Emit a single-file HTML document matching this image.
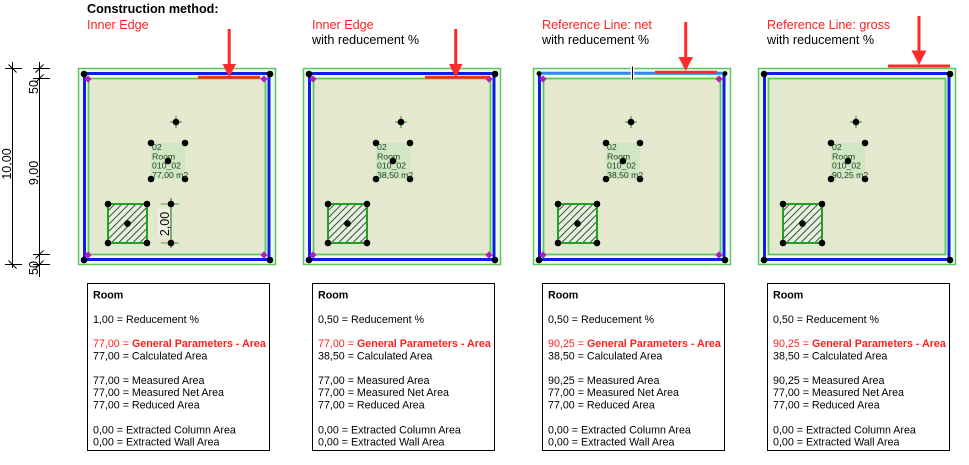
<!DOCTYPE html>
<html><head><meta charset="utf-8"><style>
html,body{margin:0;padding:0;background:#fff;}
svg{display:block;font-family:"Liberation Sans",Arial,sans-serif;}
</style></head><body>
<svg width="969" height="465" viewBox="0 0 969 465" xmlns="http://www.w3.org/2000/svg">
<defs>
<pattern id="h" width="5" height="5" patternUnits="userSpaceOnUse" patternTransform="rotate(45)">
<rect width="5" height="5" fill="#e2f3dc"/><line x1="0.5" y1="0" x2="0.5" y2="5" stroke="#333" stroke-width="0.9"/>
</pattern>
<g id="dot"><circle r="3.3" fill="#000"/></g>
<g id="dia"><polygon points="0,-3.6 3.6,0 0,3.6 -3.6,0" fill="#b11eb8"/></g>
<g id="label">
<rect x="151" y="143" width="34" height="36" fill="#cfe7c2"/>
<use href="#dot" x="151" y="143"/><use href="#dot" x="185" y="143"/><use href="#dot" x="151" y="179"/><use href="#dot" x="185" y="179"/>
<line x1="170" y1="122" x2="182" y2="122" stroke="#2a8a2a" stroke-width="1"/><line x1="176" y1="116" x2="176" y2="128" stroke="#2a8a2a" stroke-width="1"/>
<use href="#dot" x="176" y="122"/>
</g>
<g id="col">
<rect x="108" y="204" width="39" height="39" fill="url(#h)" stroke="#22a022" stroke-width="2"/>
<use href="#dot" x="108" y="204"/><use href="#dot" x="147" y="204"/><use href="#dot" x="108" y="243"/><use href="#dot" x="147" y="243"/><use href="#dot" x="127.5" y="223.5"/>
</g>
<g id="walls">
<rect x="78.5" y="68.5" width="197" height="196" fill="#f3f9f1" stroke="#5cc85c" stroke-width="1.5"/>
<rect x="88.5" y="78.5" width="177" height="176" fill="#e4e8ce" stroke="#5cc85c" stroke-width="1.8"/>
</g>
</defs>

<!-- left dimensions -->
<g stroke="#000" stroke-width="1">
<line x1="12.5" y1="62" x2="12.5" y2="268"/>
<line x1="5" y1="68.5" x2="22" y2="68.5"/><line x1="5" y1="264.5" x2="22" y2="264.5"/>
<line x1="8.5" y1="64.5" x2="16.5" y2="72.5"/><line x1="8.5" y1="260.5" x2="16.5" y2="268.5"/>
<line x1="39.5" y1="62" x2="39.5" y2="277"/>
<line x1="33" y1="68.5" x2="50" y2="68.5"/><line x1="33" y1="78.5" x2="50" y2="78.5"/>
<line x1="33" y1="254.5" x2="50" y2="254.5"/><line x1="33" y1="264.5" x2="50" y2="264.5"/>
<line x1="35.5" y1="72.5" x2="43.5" y2="64.5"/><line x1="35.5" y1="82.5" x2="43.5" y2="74.5"/>
<line x1="35.5" y1="258.5" x2="43.5" y2="250.5"/><line x1="35.5" y1="268.5" x2="43.5" y2="260.5"/>
</g>
<g font-size="12.5" fill="#000" text-anchor="middle">
<text transform="translate(11,164) rotate(-90)">10,00</text>
<text transform="translate(38,173) rotate(-90)">9,00</text>
<text transform="translate(38,87) rotate(-90)">50</text>
<text transform="translate(38,268) rotate(-90)">50</text>
</g>

<!-- Panel 1 -->
<use href="#walls"/>
<rect x="84.5" y="73.5" width="184.5" height="186" fill="none" stroke="#0c1ee6" stroke-width="3"/>
<use href="#label"/>
<use href="#col"/>
<rect x="158" y="209" width="12" height="29" fill="#eef1e2"/>
<g stroke="#1a6a1a" stroke-width="1">
<line x1="171" y1="198" x2="171" y2="248"/>
<line x1="161" y1="204" x2="179" y2="204" stroke="#3aaa3a"/><line x1="161" y1="243" x2="179" y2="243" stroke="#3aaa3a"/>
</g>
<use href="#dot" x="171" y="204"/><use href="#dot" x="171" y="243"/>
<text transform="translate(169,224) rotate(-90)" font-size="12.5" text-anchor="middle" fill="#000">2,00</text>
<use href="#dot" x="84" y="74"/><use href="#dot" x="270" y="74"/><use href="#dot" x="84" y="260"/><use href="#dot" x="270" y="260"/>
<use href="#dia" x="88" y="79"/><use href="#dia" x="264" y="79"/><use href="#dia" x="88" y="255"/><use href="#dia" x="264" y="255"/>
<rect x="198" y="75.8" width="62" height="3" fill="#ff2a2a"/>
<rect x="227.7" y="29" width="3" height="36" fill="#ff2a2a"/>
<polygon points="222.5,64 236,64 229.2,77.5" fill="#ff2a2a"/>

<!-- Panel 2 -->
<g transform="translate(225,0)">
<use href="#walls"/>
<rect x="84.5" y="73.5" width="184.5" height="186" fill="none" stroke="#0c1ee6" stroke-width="3"/>
<use href="#label"/>
<use href="#dot" x="84" y="74"/><use href="#dot" x="270" y="74"/><use href="#dot" x="84" y="260"/><use href="#dot" x="270" y="260"/>
<use href="#dia" x="88" y="79"/><use href="#dia" x="264" y="79"/><use href="#dia" x="88" y="255"/><use href="#dia" x="264" y="255"/>
</g>
<g transform="translate(220,0)"><use href="#col"/></g>
<rect x="425" y="75.8" width="64" height="3" fill="#ff2a2a"/>
<rect x="454.2" y="29" width="3" height="36" fill="#ff2a2a"/>
<polygon points="449,64 462.5,64 455.7,77.5" fill="#ff2a2a"/>

<!-- Panel 3 -->
<g transform="translate(455,0)">
<use href="#walls"/>
<path d="M84.5,73.5 V259.5 H269 V73.5" fill="none" stroke="#0c1ee6" stroke-width="3"/>
<line x1="84" y1="73.3" x2="270" y2="73.3" stroke="#2a8cf0" stroke-width="3"/>
<circle cx="84" cy="73.5" r="2.4" fill="#000"/><circle cx="270" cy="73.5" r="2.4" fill="#000"/>
<use href="#dot" x="84" y="260"/><use href="#dot" x="270" y="260"/>
<use href="#dia" x="88" y="79"/><use href="#dia" x="264" y="79"/><use href="#dia" x="88" y="255"/><use href="#dia" x="264" y="255"/>
<use href="#label"/>
</g>
<g transform="translate(450,0)"><use href="#col"/></g>
<rect x="630.8" y="66.5" width="3.4" height="13" fill="#fff"/>
<line x1="632.5" y1="66.5" x2="632.5" y2="79.5" stroke="#000" stroke-width="1"/>
<rect x="655" y="70.8" width="62" height="3" fill="#ff2a2a"/>
<rect x="684.2" y="22" width="3" height="36" fill="#ff2a2a"/>
<polygon points="678.5,57 693,57 685.7,71" fill="#ff2a2a"/>

<!-- Panel 4 -->
<g transform="translate(680,0)">
<use href="#walls"/>
<rect x="84.5" y="73.5" width="184.5" height="186" fill="none" stroke="#0c1ee6" stroke-width="3"/>
<use href="#label"/>
<use href="#dot" x="84" y="74"/><use href="#dot" x="270" y="74"/><use href="#dot" x="84" y="260"/><use href="#dot" x="270" y="260"/>
</g>
<g transform="translate(675,0)"><use href="#col"/></g>
<rect x="888" y="64.5" width="62" height="3" fill="#ff2a2a"/>
<rect x="917.5" y="16" width="3" height="36" fill="#ff2a2a"/>
<polygon points="911.5,50.5 926.5,50.5 919,65" fill="#ff2a2a"/>

<!-- room labels text -->
<g font-size="8.7" fill="#243f24">
<text x="152" y="150">02</text><text x="152" y="159.3">Room</text><text x="152" y="168.5">010_02</text><text x="152" y="177.8">77,00 m2</text>
<text x="377" y="150">02</text><text x="377" y="159.3">Room</text><text x="377" y="168.5">010_02</text><text x="377" y="177.8">38,50 m2</text>
<text x="607" y="150">02</text><text x="607" y="159.3">Room</text><text x="607" y="168.5">010_02</text><text x="607" y="177.8">38,50 m2</text>
<text x="832" y="150">02</text><text x="832" y="159.3">Room</text><text x="832" y="168.5">010_02</text><text x="832" y="177.8">90,25 m2</text>
</g>
<g>
<use href="#dot" x="168" y="161"/><use href="#dot" x="393" y="161"/><use href="#dot" x="623" y="161"/><use href="#dot" x="848" y="161"/>
</g>

<!-- headers -->
<g font-size="12.6">
<text x="87" y="13" font-weight="bold" fill="#000">Construction method:</text>
<text x="87" y="29" fill="#ff1f1f">Inner Edge</text>
<text x="312" y="29" fill="#ff1f1f">Inner Edge</text>
<text x="312" y="44" fill="#000">with reducement %</text>
<text x="542" y="29" fill="#ff1f1f">Reference Line: net</text>
<text x="542" y="44" fill="#000">with reducement %</text>
<text x="767" y="29" fill="#ff1f1f">Reference Line: gross</text>
<text x="767" y="44" fill="#000">with reducement %</text>
</g>

<!-- tables -->
<g fill="none" stroke="#000" stroke-width="1">
<rect x="87.5" y="283.5" width="182" height="167"/>
<rect x="312.5" y="283.5" width="182" height="167"/>
<rect x="542.5" y="283.5" width="182" height="167"/>
<rect x="767.5" y="283.5" width="182" height="167"/>
</g>
<g font-size="10.7" fill="#000">
<g transform="translate(93,0)">
<text y="298.5" font-weight="bold">Room</text>
<text y="323">1,00 = Reducement %</text>
<text y="347" fill="#ff1f1f">77,00 = <tspan font-weight="bold">General Parameters - Area</tspan></text>
<text y="359.3">77,00 = Calculated Area</text>
<text y="384">77,00 = Measured Area</text>
<text y="396.2">77,00 = Measured Net Area</text>
<text y="408.4">77,00 = Reduced Area</text>
<text y="433.5">0,00 = Extracted Column Area</text>
<text y="445.7">0,00 = Extracted Wall Area</text>
</g>
<g transform="translate(318,0)">
<text y="298.5" font-weight="bold">Room</text>
<text y="323">0,50 = Reducement %</text>
<text y="347" fill="#ff1f1f">77,00 = <tspan font-weight="bold">General Parameters - Area</tspan></text>
<text y="359.3">38,50 = Calculated Area</text>
<text y="384">77,00 = Measured Area</text>
<text y="396.2">77,00 = Measured Net Area</text>
<text y="408.4">77,00 = Reduced Area</text>
<text y="433.5">0,00 = Extracted Column Area</text>
<text y="445.7">0,00 = Extracted Wall Area</text>
</g>
<g transform="translate(548,0)">
<text y="298.5" font-weight="bold">Room</text>
<text y="323">0,50 = Reducement %</text>
<text y="347" fill="#ff1f1f">90,25 = <tspan font-weight="bold">General Parameters - Area</tspan></text>
<text y="359.3">38,50 = Calculated Area</text>
<text y="384">90,25 = Measured Area</text>
<text y="396.2">77,00 = Measured Net Area</text>
<text y="408.4">77,00 = Reduced Area</text>
<text y="433.5">0,00 = Extracted Column Area</text>
<text y="445.7">0,00 = Extracted Wall Area</text>
</g>
<g transform="translate(773,0)">
<text y="298.5" font-weight="bold">Room</text>
<text y="323">0,50 = Reducement %</text>
<text y="347" fill="#ff1f1f">90,25 = <tspan font-weight="bold">General Parameters - Area</tspan></text>
<text y="359.3">38,50 = Calculated Area</text>
<text y="384">90,25 = Measured Area</text>
<text y="396.2">77,00 = Measured Net Area</text>
<text y="408.4">77,00 = Reduced Area</text>
<text y="433.5">0,00 = Extracted Column Area</text>
<text y="445.7">0,00 = Extracted Wall Area</text>
</g>
</g>
</svg>
</body></html>
